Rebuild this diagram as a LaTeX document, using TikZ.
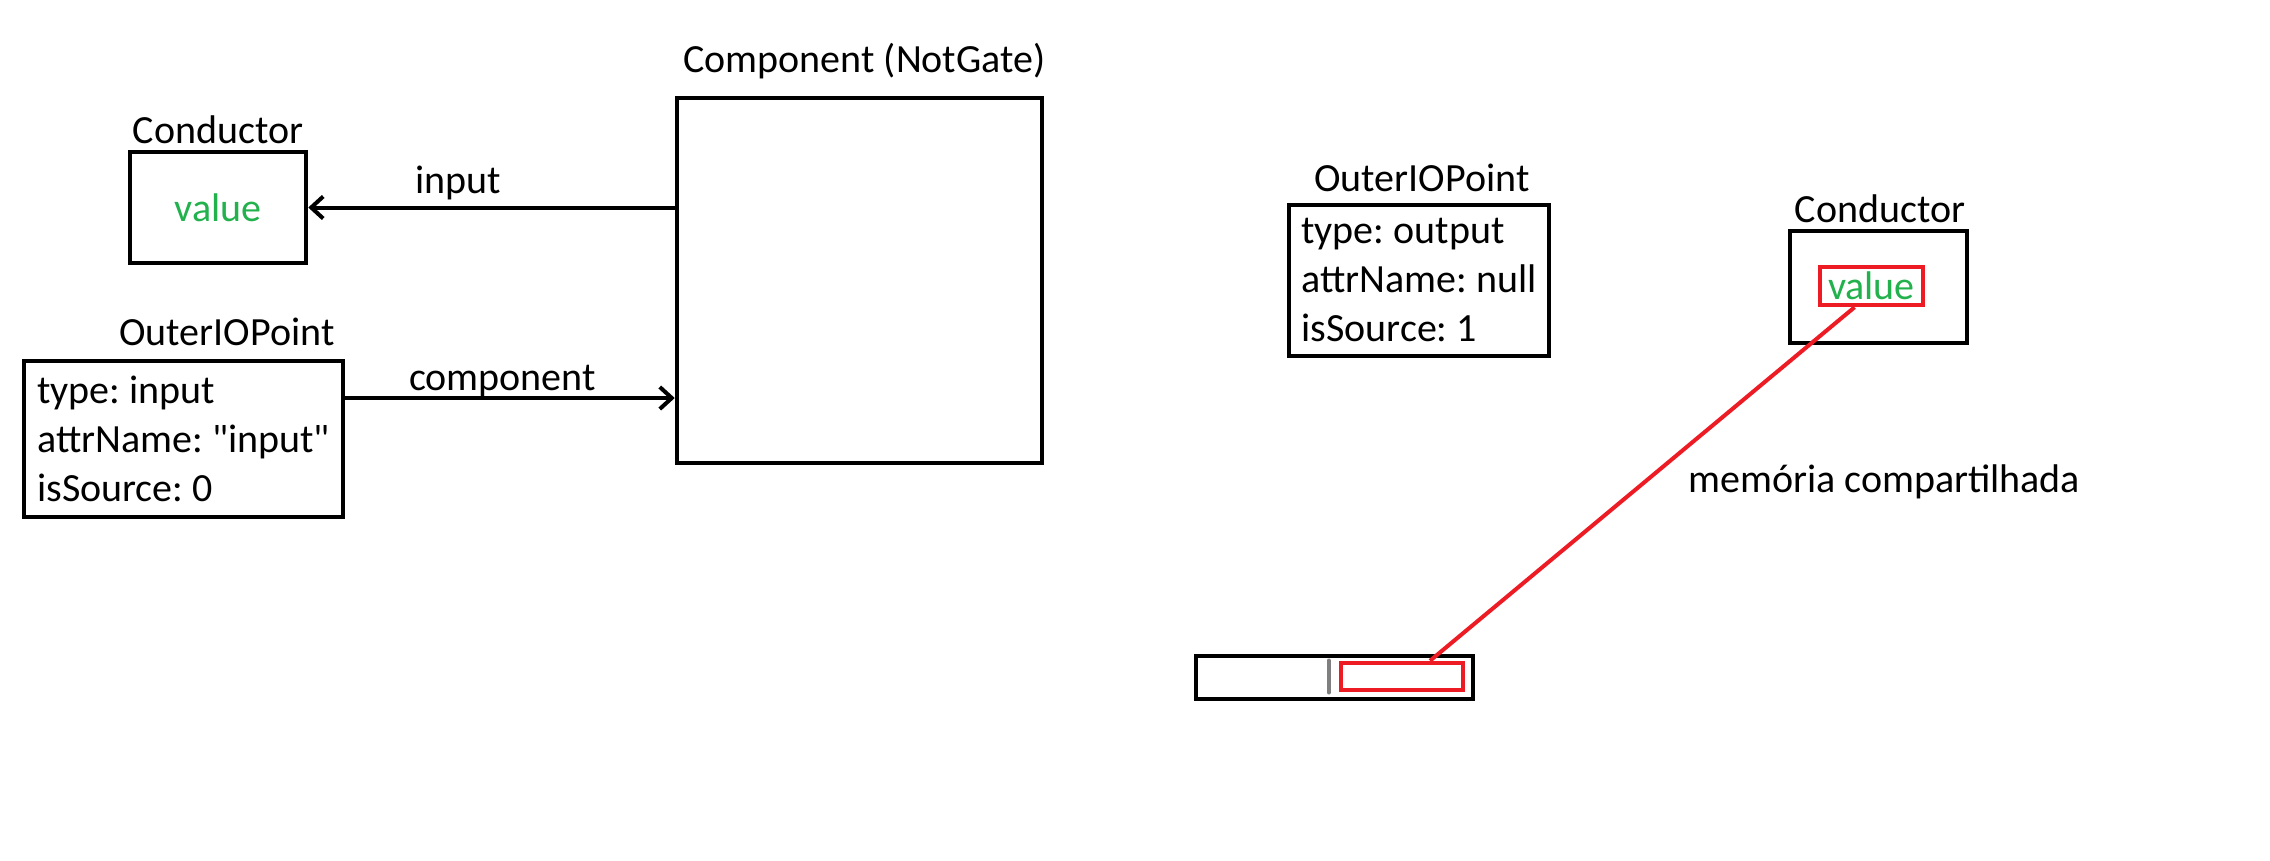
\documentclass[tikz,border=0pt]{standalone}
\usepackage{fontspec}
\setmainfont{Carlito}
\usetikzlibrary{positioning, calc, arrows.meta}
\definecolor{paintgreen}{HTML}{22B14C}
\definecolor{paintred}{HTML}{ED1C24}
\definecolor{paintgray}{HTML}{7F7F7F}
\frenchspacing

\begin{document}
\begin{tikzpicture}[
  x=1pt, y=-1pt,
  font=\fontsize{40}{49}\selectfont,
  entity/.style={
    rectangle,
    draw,
    line width=4.5pt,
    inner sep=0pt,
  },
  fields/.style={entity, align=left, inner xsep=12pt},
  caption/.style={inner sep=0pt, anchor=base},
  link/.style={line width=4pt, -{Straight Barb[length=12pt, width=22pt]}},
  shared/.style={draw=paintred, line width=4pt},
]
\useasboundingbox (0,0) rectangle (2270,860);

% --- Component (NotGate) ---
\node[entity, minimum width=365pt, minimum height=365pt] (comp) at (859.5,280.5) {};
\node[above=23pt of comp, caption, xshift=5pt] (compT) {Component (NotGate)};

% --- Conductor (left) ---
\node[entity, text=paintgreen, minimum width=176pt, minimum height=111pt] (condA) at (218,207.5) {value};
\node[above=6.5pt of condA, caption] (condAT) {Conductor};

% --- OuterIOPoint (input) ---
\node[fields, minimum width=319pt, minimum height=156pt] (ioA) at (183.5,439) {
  type: input\\
  attrName: \textquotedbl input\textquotedbl\\
  isSource: 0};
\node[above=13.5pt of ioA, caption, xshift=43.5pt] (ioAT) {OuterIOPoint};

% --- OuterIOPoint (output) ---
\node[fields, minimum width=260pt, minimum height=151pt] (ioB) at (1419,280.5) {
  type: output\\
  attrName: null\\
  isSource: 1};
\node[above=11.5pt of ioB, caption, xshift=3pt] (ioBT) {OuterIOPoint};

% --- Conductor (right) with its value cell ---
\node[entity, minimum width=177pt, minimum height=112pt] (condB) at (1878.5,287) {};
\node[above=6.5pt of condB, caption, xshift=1.5pt] (condBT) {Conductor};
\node[entity, draw=paintred, text=paintgreen, minimum width=103pt, minimum height=38pt]
  (valB) at ($(condB.center)+(-7,-1)$) {value};

% --- memory bar ---
\node[entity, minimum width=277pt, minimum height=43pt] (bar) at (1334.5,677.5) {};
\node[entity, draw=paintred, minimum width=122pt, minimum height=27pt] (slot) at (1402,676.5) {};
\draw[paintgray, line width=4pt, line cap=round]
  ($(slot.west)+(-10,-16)$) -- ($(slot.west)+(-10,16)$);

% references between objects
\draw[link] (comp.west |- condA.east) -- node[caption, pos=0.59, yshift=14pt] (inLbl) {input} (condA.east);
\coordinate (cmpFrom) at ($(ioA.east)+(0,-41)$);
\draw[link] (cmpFrom) -- node[caption, pos=0.477, yshift=8pt] (cmpLbl) {component} (comp.west |- cmpFrom);

% shared memory
\node[caption, anchor=base west] (memo) at (1688,492) {memória compartilhada};
\draw[shared] ($(valB.south)+(-17,0)$) -- ($(slot.north)+(28,0)$);
\end{tikzpicture}
\end{document}
